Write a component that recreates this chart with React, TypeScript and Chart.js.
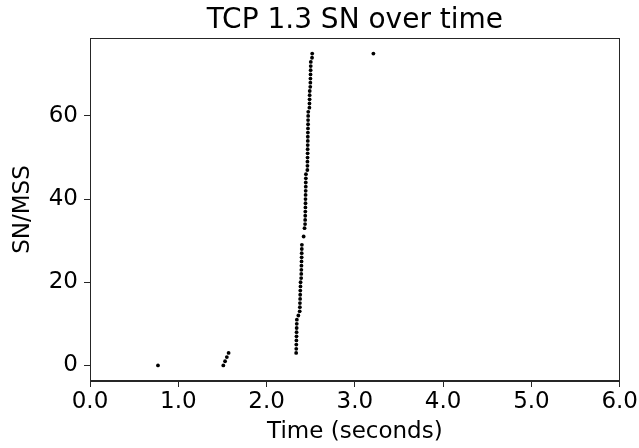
import React, { useEffect, useRef } from "react";
import { Chart, registerables } from "chart.js";

Chart.register(...registerables);

const titleText = "TCP 1.3 SN over time";
const xLabel = "Time (seconds)";
const yLabel = "SN/MSS";
const xTicks = [0, 1, 2, 3, 4, 5, 6];
const yTicks = [0, 20, 40, 60];

// time (s) of each sent segment
const times = [
  0.77,
  1.51, 1.53, 1.55, 1.57,
  2.335, 2.336, 2.337, 2.338, 2.339, 2.340, 2.341, 2.342, 2.343,
  2.36,
  2.375, 2.377, 2.378, 2.380, 2.381, 2.382, 2.384, 2.385,
  2.392, 2.393, 2.394, 2.395, 2.396, 2.397, 2.398, 2.399, 2.400,
  2.42, 2.43,
  2.436, 2.437, 2.438, 2.439, 2.440, 2.441, 2.441, 2.442, 2.443, 2.444, 2.444, 2.445, 2.446,
  2.462, 2.463, 2.463, 2.464, 2.465, 2.465, 2.466, 2.467, 2.467, 2.468, 2.469, 2.470, 2.470, 2.471, 2.472,
  2.485, 2.486, 2.487, 2.488, 2.489,
  2.495, 2.496, 2.497, 2.498, 2.499,
  2.500, 2.501,
  2.515, 2.517,
  3.21,
];
// sequence number / MSS of each segment
const sns = [
  0,
  0, 1, 2, 3,
  3, 4, 5, 6, 7, 8, 9, 10, 11,
  12,
  13, 14, 15, 16, 17, 18, 19, 20,
  21, 22, 23, 24, 25, 26, 27, 28, 29,
  31, 33,
  34, 35, 36, 37, 38, 39, 40, 41, 42, 43, 44, 45, 46,
  47, 48, 49, 50, 51, 52, 53, 54, 55, 56, 57, 58, 59, 60, 61,
  62, 63, 64, 65, 66,
  67, 68, 69, 70, 71,
  72, 73,
  74, 75,
  75,
];

const FONT = "'DejaVu Sans', sans-serif";
const INK = "#262626";
const LABEL_SIZE = 23;
const TITLE_SIZE = 28;

const framePlugin = {
  id: "frame",
  afterDraw(chart: any) {
    const { ctx, chartArea } = chart;
    ctx.save();
    ctx.strokeStyle = INK;
    ctx.lineWidth = 1;
    ctx.strokeRect(
      Math.round(chartArea.left) + 0.5,
      Math.round(chartArea.top) + 0.5,
      Math.round(chartArea.right - chartArea.left) - 1,
      Math.round(chartArea.bottom - chartArea.top) - 1
    );
    // title centred over the axes, like matplotlib
    ctx.fillStyle = "#000";
    ctx.font = `${TITLE_SIZE}px ${FONT}`;
    ctx.textAlign = "center";
    ctx.textBaseline = "alphabetic";
    ctx.fillText(titleText, (chartArea.left + chartArea.right) / 2, chartArea.top - 10);
    ctx.restore();
  },
};

export default function App() {
  const ref = useRef<HTMLCanvasElement | null>(null);
  useEffect(() => {
    document.body.style.margin = "0";
    const canvas = ref.current;
    if (!canvas) return;
    const chart = new Chart(canvas, {
      type: "scatter",
      data: {
        datasets: [
          {
            data: times.map((t, i) => ({ x: t, y: sns[i] })),
            backgroundColor: "#000",
            borderColor: "#000",
            pointRadius: 1.9,
            pointBorderWidth: 0,
            pointHoverRadius: 1.9,
          },
        ],
      },
      options: {
        responsive: false,
        animation: false,
        events: [],
        layout: { padding: { left: 0, right: 18, top: 38, bottom: 0 } },
        plugins: {
          legend: { display: false },
          tooltip: { enabled: false },
          title: { display: false },
        },
        scales: {
          x: {
            type: "linear",
            min: 0,
            max: 6,
            afterBuildTicks: (s: any) => {
              s.ticks = xTicks.map((v) => ({ value: v }));
            },
            afterFit: (s: any) => {
              s.height = 67;
            },
            ticks: {
              color: "#000",
              font: { family: FONT, size: LABEL_SIZE },
              padding: 1,
              maxRotation: 0,
              callback: (v: any) => Number(v).toFixed(1),
            },
            grid: {
              drawOnChartArea: false,
              drawTicks: true,
              tickLength: 6,
              color: INK,
            },
            border: { display: true, color: INK },
            title: {
              display: true,
              text: xLabel,
              color: "#000",
              font: { family: FONT, size: LABEL_SIZE },
              padding: { top: 0, bottom: 2 },
            },
          },
          y: {
            type: "linear",
            min: -3.75,
            max: 78.75,
            afterBuildTicks: (s: any) => {
              s.ticks = yTicks.map((v) => ({ value: v }));
            },
            afterFit: (s: any) => {
              s.width = 90;
            },
            ticks: {
              color: "#000",
              font: { family: FONT, size: LABEL_SIZE },
              padding: 6,
            },
            grid: {
              drawOnChartArea: false,
              drawTicks: true,
              tickLength: 6,
              color: INK,
            },
            border: { display: true, color: INK },
            title: {
              display: true,
              text: yLabel,
              color: "#000",
              font: { family: FONT, size: LABEL_SIZE },
              padding: { top: 9, bottom: 0 },
            },
          },
        },
      },
      plugins: [framePlugin],
    } as any);
    return () => chart.destroy();
  }, []);
  return (
    <div style={{ width: 639, height: 448 }}>
      <canvas ref={ref} width={639} height={448} style={{ display: "block" }} />
    </div>
  );
}
